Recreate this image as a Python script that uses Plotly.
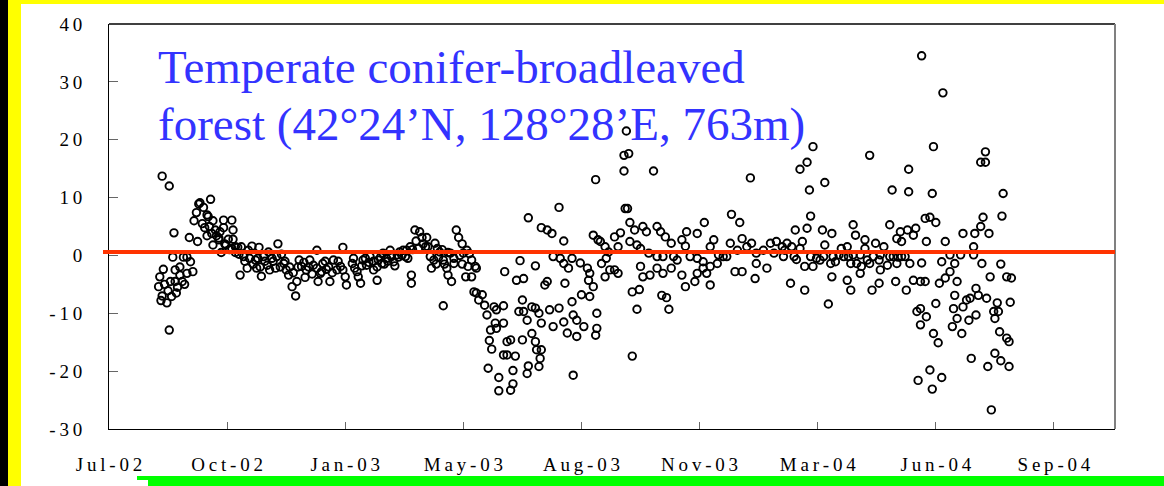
import plotly.graph_objects as go
import pandas as pd

# ---------------- data ----------------
START = pd.Timestamp("2002-07-10")      # left end of the date axis
AXIS_DAYS = 851.7                        # axis length in days
TICK_STEP_DAYS = 100
tick_labels = ["Jul-02", "Oct-02", "Jan-03", "May-03", "Aug-03",
               "Nov-03", "Mar-04", "Jun-04", "Sep-04"]
y_ticks = [40, 30, 20, 10, 0, -10, -20, -30]
ref_level = 0.6
title_line1 = "Temperate conifer-broadleaved"
title_line2 = "forest (42°24’N, 128°28’E, 763m)"

# (days since START, value)
seg_2002 = [
    (45, 13.7), (51, 12.0), (55, 3.9), (54, -0.3), (46, -2.4), (43, -3.7), (42, -5.4), (44, -7.8), (49, -8.2), (53, -7.1),
    (50, -6.1), (52, -4.5), (56, -4.5), (58, -5.5), (60, -3.4), (62, -4.5), (66, -3.1), (66, -0.3), (63, -0.3), (69, -1.1),
    (71, -2.8), (68, 3.1), (75, 2.4), (72, 6.0), (74, 7.4), (76, 8.9), (77, 9.1), (80, 8.3), (83, 7.0), (84, 6.7),
    (86, 9.7), (81, 4.8), (83, 3.4), (87, 3.8), (90, 4.4), (91, 3.4), (88, 1.8), (93, 2.7), (94, 4.1), (97, 6.1),
    (97, 4.8), (104, 6.1), (105, 4.4), (95, 0.5), (99, 1.8), (101, 2.8), (105, 2.8), (104, 1.2), (107, 1.5), (109, 1.4),
    (112, 1.5), (111, -3.4), (114, -0.2), (117, -2.2), (118, 0.9), (121, 1.6), (124, -0.8), (125, -2.2), (127, 1.4), (129, -3.6),
    (131, -0.2), (134, -1.7), (135, 0.6), (138, -0.5), (141, -2.2), (143, 2.0), (146, 0.2), (148, -1.4), (150, -2.5), (152, -3.4),
    (155, -5.4), (158, -7.0), (159, -4.5), (161, -0.8), (163, -1.9), (166, -3.8), (167, -2.5), (170, -0.8), (173, -1.7), (176, 0.9),
    (177, -4.5), (179, -3.1), (181, -1.4), (184, -2.4), (187, -4.5), (190, -0.8), (193, -2.5), (196, -1.9), (198, 1.4), (200, -3.7),
    (201, -5.1), (51, -12.9),
    (60, -2.0), (64, -5.0), (57, -6.5), (47, -5.0), (45, -7.0), (56, -2.5), (79, 5.5), (85, 5.0), (88, 6.0), (93, 3.0),
    (98, 2.0), (102, 1.0), (107, 0.5), (110, 0.2), (115, -1.0), (119, -0.5), (122, -1.5), (126, -0.5), (128, -2.0), (132, -1.0),
    (136, -2.5), (139, -1.0), (142, -0.2), (145, -2.0), (149, -1.0), (153, -2.0), (156, -3.0), (160, -2.0), (165, -1.2), (169, -2.0),
    (172, -3.2), (176, -2.2), (180, -2.8), (183, -1.0), (186, -2.0), (189, -3.0), (194, -1.0), (198, -2.5),
]

seg_2003a = [
    (206, -1.4), (208, -2.2), (211, -3.7), (213, -4.8), (215, -0.8), (218, -1.7), (221, -0.2), (224, -2.5), (227, -4.3), (228, -0.8),
    (231, -1.4), (232, 0.4), (235, -0.5), (238, 0.9), (241, -1.1), (244, 0.1), (246, 0.6), (249, 0.9), (251, -0.2), (252, 0.9),
    (256, -3.4), (256, -4.8), (255, 1.5), (259, 4.4), (263, 4.1), (265, 3.1), (268, 1.5), (269, 3.1), (272, -0.2), (273, -2.2),
    (275, -0.8), (276, 2.1), (278, 1.2), (280, 0.6), (283, -8.7), (283, -0.8), (286, -2.2), (287, -3.4), (289, 0.4), (290, -4.5),
    (292, -1.4), (294, 4.4), (296, 3.1), (299, 2.0), (300, 0.4), (302, -3.7), (303, 0.9), (304, -1.9), (307, -0.8), (307, -3.7),
    (310, -1.9), (311, -2.2), (309, -6.3), (311, -6.5), (316, -6.8), (313, -7.7), (318, -8.6), (320, -10.3), (323, -12.9), (326, -8.9),
    (328, -9.4), (334, -8.7), (327, -11.7), (328, -12.6), (334, -11.7), (322, -14.7), (324, -16.2), (337, -14.9), (340, -14.6), (321, -19.5),
    (330, -21.1), (330, -23.4), (340, -23.3), (342, -22.2), (342, -19.9), (337, -17.2), (344, -17.4), (334, -17.2), (335, -2.8), (345, -4.3),
    (351, -4.0), (348, -0.9), (361, -1.8), (371, -4.5), (369, -5.1), (350, -14.6), (350, -7.7), (347, -9.7), (351, -9.7), (354, -11.2),
    (358, -8.9), (361, -9.1), (364, -10.0), (366, -11.7), (358, -13.5), (361, -14.9), (362, -16.3), (366, -16.3), (365, -17.8), (364, -19.2),
    (355, -19.1), (354, -20.4), (373, -9.4), (376, -12.3), (381, -9.1), (385, -11.5), (388, -13.4), (392, -8.0), (393, -10.3), (396, -11.2),
    (396, -14.0), (400, -6.8), (402, -12.3), (407, -7.1), (413, -10.0), (413, -12.6), (412, -13.8), (410, -5.4), (393, -20.7), (381, 8.3),
    (355, 6.5), (366, 4.8), (371, 4.4), (375, 3.8), (385, 2.5), (412, 13.1), (410, 3.5), (414, 2.7), (376, -0.2), (382, -0.5),
    (385, -1.4), (389, -2.2), (392, -0.5), (399, -1.3), (405, -2.2), (407, -3.1), (406, -4.3), (386, -4.8),
    (207, -0.5), (210, -2.8), (214, -1.8), (217, -0.5), (220, -1.2), (224, -1.0), (227, -2.0), (230, -0.3), (233, -1.5), (236, -1.0),
    (239, -0.2), (242, -1.8), (245, -0.3), (248, 0.0), (253, -0.5), (257, 1.0), (260, 2.5), (262, 1.2), (266, 2.0), (270, 1.5),
    (277, -1.5), (279, -0.3), (282, 1.0), (284, -1.5), (287, 0.5), (292, -0.5), (297, 0.0), (299, -1.5), (305, 0.3),
]

seg_2003b = [
    (438, 21.5), (436, 17.3), (440, 17.6), (436, 14.6), (461, 14.6), (543, 13.4), (437, 8.1), (439, 8.1), (441, 5.7), (445, 4.4),
    (452, 5.0), (455, 4.1), (464, 5.0), (467, 4.1), (471, 3.2), (489, 4.1), (498, 3.8), (504, 5.7), (527, 7.1), (534, 5.7),
    (416, 2.4), (420, 1.5), (428, 3.2), (433, 3.9), (431, 1.5), (423, 0.6), (441, 2.4), (447, 1.8), (450, 1.2), (457, 0.4),
    (464, -0.2), (469, -0.2), (476, 2.1), (478, -0.2), (485, 2.7), (488, 1.6), (492, -0.2), (498, -0.5), (503, -1.1), (512, 2.7),
    (509, 1.5), (516, 0.1), (523, -0.2), (526, 2.1), (532, 0.9), (536, 2.9), (540, 1.5), (544, 2.1), (548, 0.4), (554, 0.9),
    (560, 2.1), (565, 2.4), (417, -1.4), (420, -3.7), (424, -2.5), (428, -2.5), (431, -3.1), (421, -0.5), (443, -6.3), (449, -5.9),
    (447, -9.3), (468, -6.9), (472, -7.3), (474, -9.3), (443, -17.4), (450, -1.9), (452, -3.7), (458, -3.4), (464, -2.2), (469, -3.1),
    (476, -2.2), (481, -0.8), (485, -3.4), (488, -5.4), (496, -4.5), (498, -3.1), (503, -2.2), (509, -5.1), (506, -3.1), (509, -1.9),
    (515, -1.4), (520, -0.2), (530, -2.8), (536, -2.8), (547, -4.0), (548, -1.4), (557, -2.2), (563, 0.4),
]

seg_2004 = [
    (596, 18.8), (591, 16.1), (585, 14.9), (606, 12.6), (593, 11.3), (644, 17.3), (677, 14.9), (698, 18.8), (742, 17.9), (738, 16.1),
    (742, 16.1), (663, 11.3), (677, 11.0), (697, 10.7), (757, 10.7), (594, 6.8), (756, 6.8), (581, 4.4), (591, 4.7), (604, 4.4),
    (612, 3.8), (630, 5.3), (661, 5.3), (670, 4.1), (676, 4.4), (683, 4.7), (681, 3.5), (671, 2.4), (667, 2.9), (691, 6.4),
    (695, 6.6), (700, 5.7), (692, 2.4), (708, 2.4), (723, 3.8), (733, 3.8), (738, 5.0), (740, 6.6), (745, 3.8), (732, 1.5),
    (574, 2.1), (587, 2.4), (571, -0.2), (582, -0.7), (589, -1.9), (596, -1.9), (602, -0.8), (606, 1.8), (611, -1.4), (615, -1.1),
    (620, 1.2), (625, 1.5), (628, -1.4), (632, 3.5), (636, 0.1), (640, 2.7), (640, 1.2), (644, -1.4), (649, 2.1), (652, -0.8),
    (653, -2.5), (656, 1.5), (659, -1.7), (664, -0.2), (667, -1.4), (674, -0.2), (678, -1.4), (688, -1.3), (705, -1.1), (712, 0.1),
    (716, -1.4), (721, 0.1), (732, 0.1), (739, -1.4), (755, -1.5), (746, -3.7), (760, -3.7), (764, -3.9), (577, -4.8), (589, -6.0),
    (609, -8.4), (612, -3.7), (625, -4.3), (628, -6.0), (636, -3.1), (646, -6.0), (652, -4.8), (666, -4.5), (675, -6.0), (681, -4.3),
    (687, -4.5), (691, -4.5), (703, -4.8), (708, -3.9), (712, -2.8), (718, -4.5), (716, -6.9), (700, -8.3), (684, -9.7), (687, -9.2),
    (692, -10.6), (687, -12.0), (698, -13.5), (702, -15.1), (715, -9.2), (718, -10.9), (714, -12.3), (722, -13.5), (723, -8.9), (726, -7.7),
    (729, -7.4), (736, -6.9), (734, -5.7), (743, -7.4), (752, -8.2), (763, -8.1), (749, -9.7), (753, -9.7), (750, -10.9), (734, -10.3),
    (728, -11.2), (754, -13.2), (760, -14.3), (762, -14.9), (730, -17.8), (750, -16.9), (755, -18.2), (762, -19.2), (744, -19.2), (695, -19.8),
    (705, -21.1), (685, -21.6), (697, -23.1), (688, 34.5), (706, 28.1), (747, -26.7),
    (570, 1.5), (572, 0.9), (578, 1.5), (580, -0.2), (585, 1.2), (594, -0.2), (599, -0.5), (605, -0.2), (613, -0.2), (618, 0.1),
    (622, -0.2), (626, -0.2), (630, 0.1), (633, -1.4), (637, -1.9), (642, -0.8), (647, -0.2), (653, 0.1), (661, -0.2), (668, -0.3),
    (671, -0.2),
]

# ---------------- figure ----------------
points = sorted(seg_2002 + seg_2003a + seg_2003b + seg_2004)
dates = [START + pd.Timedelta(days=p[0]) for p in points]
values = [p[1] for p in points]

W, H = 1164, 486
L, R, T, B = 109, 1115, 24, 429          # plot-area pixel box


def px_x(px):
    return (px - L) / (R - L)


def px_y(py):
    return (B - py) / (B - T)


def spaced(s):
    return "\u2009".join(s)


SERIF = "Liberation Serif, Times New Roman, serif"

fig = go.Figure()
fig.add_trace(go.Scatter(
    x=dates, y=values, mode="markers",
    marker=dict(symbol="circle-open", size=7.5, color="black",
                line=dict(width=1.9, color="black")),
    hoverinfo="skip", showlegend=False,
))

tickvals = [START + pd.Timedelta(days=TICK_STEP_DAYS * k) for k in range(len(tick_labels))]
x_end = START + pd.Timedelta(days=AXIS_DAYS)

shapes = [
    # page decoration
    dict(type="rect", xref="paper", yref="paper", x0=px_x(0), x1=px_x(8), y0=px_y(H + 2), y1=px_y(0),
         fillcolor="black", line=dict(width=0), layer="below"),
    dict(type="rect", xref="paper", yref="paper", x0=px_x(8), x1=px_x(21), y0=px_y(H + 2), y1=px_y(0),
         fillcolor="#FFFF00", line=dict(width=0), layer="below"),
    dict(type="rect", xref="paper", yref="paper", x0=px_x(8), x1=px_x(W), y0=px_y(4), y1=px_y(0),
         fillcolor="#FFFF00", line=dict(width=0), layer="below"),
    dict(type="rect", xref="paper", yref="paper", x0=px_x(148), x1=px_x(W), y0=px_y(H + 2), y1=px_y(476),
         fillcolor="#00FF00", line=dict(width=0), layer="below"),
    dict(type="rect", xref="paper", yref="paper", x0=px_x(137), x1=px_x(148), y0=px_y(480), y1=px_y(476),
         fillcolor="#00FF00", line=dict(width=0), layer="below"),
    # frame
    dict(type="line", xref="paper", yref="paper", x0=0, x1=1, y0=1, y1=1,
         line=dict(color="black", width=1.5)),
    dict(type="line", xref="paper", yref="paper", x0=1, x1=1, y0=0, y1=1,
         line=dict(color="#808080", width=2)),
    # reference line
    dict(type="line", xref="paper", yref="y", x0=px_x(103), x1=1, y0=ref_level, y1=ref_level,
         line=dict(color="#FF3300", width=4)),
]

annotations = [
    dict(text=title_line1, xref="paper", yref="paper", x=px_x(156), y=px_y(67),
         xanchor="left", yanchor="middle", showarrow=False,
         font=dict(family=SERIF, size=47, color="#3333FF")),
    dict(text=title_line2, xref="paper", yref="paper", x=px_x(156), y=px_y(124),
         xanchor="left", yanchor="middle", showarrow=False,
         font=dict(family=SERIF, size=47, color="#3333FF")),
]

fig.update_layout(
    width=W, height=H,
    margin=dict(l=L, r=W - R, t=T, b=H - B, pad=0, autoexpand=False),
    paper_bgcolor="white", plot_bgcolor="white",
    shapes=shapes, annotations=annotations, showlegend=False,
    xaxis=dict(
        type="date", range=[str(START), str(x_end)],
        tickmode="array", tickvals=tickvals, ticktext=[spaced(t) for t in tick_labels],
        ticks="inside", ticklen=7, tickcolor="#666666", tickwidth=1,
        showline=True, linecolor="black", linewidth=1,
        showgrid=False, zeroline=False, automargin=False,
        tickfont=dict(family=SERIF, size=19, color="black"),
        ticklabelstandoff=18,
    ),
    yaxis=dict(
        range=[-30, 40], tickmode="array", tickvals=y_ticks,
        ticktext=[spaced(str(v)) for v in y_ticks],
        ticks="inside", ticklen=9, tickcolor="#666666", tickwidth=1,
        showline=True, linecolor="black", linewidth=1,
        showgrid=False, zeroline=False, automargin=False,
        tickfont=dict(family=SERIF, size=19, color="black"),
        ticklabelstandoff=22,
    ),
)

fig.write_html("out.html")
